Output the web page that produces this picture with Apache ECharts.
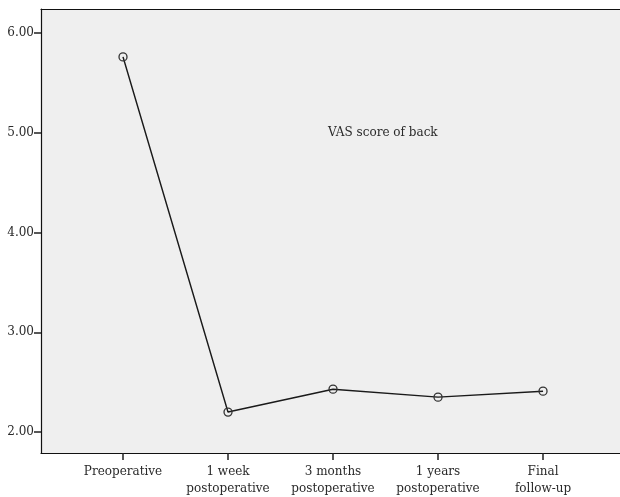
<!DOCTYPE html>
<html>
<head>
<meta charset="utf-8">
<script src="https://cdn.jsdelivr.net/npm/echarts@6/dist/echarts.min.js"></script>
<style>html,body{margin:0;padding:0;background:#fff;}#c{width:620px;height:497px;}</style>
</head>
<body>
<div id="c"></div>
<script>
const categories = ["Preoperative", "1 week\npostoperative", "3 months\npostoperative", "1 years\npostoperative", "Final\nfollow-up"];
const vasBack = [5.76, 2.20, 2.43, 2.35, 2.41];
const yTicks = [2, 3, 4, 5, 6];
const titleText = "VAS score of back";

const FONT = "DejaVu Serif";
const chart = echarts.init(document.getElementById('c'), null, {renderer: 'canvas'});
const xIdx = categories.map((_, i) => i);
chart.setOption({
  animation: false,
  backgroundColor: '#ffffff',
  title: {
    text: titleText, left: 323, top: 122,
    textStyle: {fontFamily: FONT, fontSize: 12, fontWeight: 'normal', color: '#2a2a2a'}
  },
  grid: {left: 41, top: 9, right: 0, bottom: 44, show: true, backgroundColor: '#efefef', borderWidth: 0},
  xAxis: [{
    type: 'value', min: -0.781, max: 4.733,
    axisLine: {show: true, onZero: false, lineStyle: {color: '#111', width: 1.2}},
    axisTick: {show: true, customValues: xIdx, length: 7, lineStyle: {color: '#222', width: 1.5}},
    axisLabel: {customValues: xIdx, formatter: v => categories[Math.round(v)], fontFamily: FONT, fontSize: 12, color: '#2a2a2a', lineHeight: 17, margin: 10},
    splitLine: {show: false}
  }, {
    type: 'value', position: 'top', min: -0.781, max: 4.733,
    axisLine: {show: true, onZero: false, lineStyle: {color: '#111', width: 1.2}},
    axisTick: {show: false}, axisLabel: {show: false}, splitLine: {show: false}
  }],
  yAxis: {
    type: 'value', min: 1.79, max: 6.24,
    axisLine: {show: true, onZero: false, lineStyle: {color: '#111', width: 1.2}},
    axisTick: {show: true, customValues: yTicks, length: 7, lineStyle: {color: '#222', width: 1.5}},
    axisLabel: {customValues: yTicks, formatter: v => v.toFixed(2), fontFamily: FONT, fontSize: 12, color: '#2a2a2a', margin: 7},
    splitLine: {show: false}
  },
  series: [{
    type: 'line',
    data: vasBack.map((v, i) => [i, v]),
    symbol: 'circle', symbolSize: 8,
    lineStyle: {color: '#1a1a1a', width: 1.5},
    itemStyle: {color: 'rgba(0,0,0,0)', borderColor: '#333', borderWidth: 1.3}
  }]
});
</script>
</body>
</html>
